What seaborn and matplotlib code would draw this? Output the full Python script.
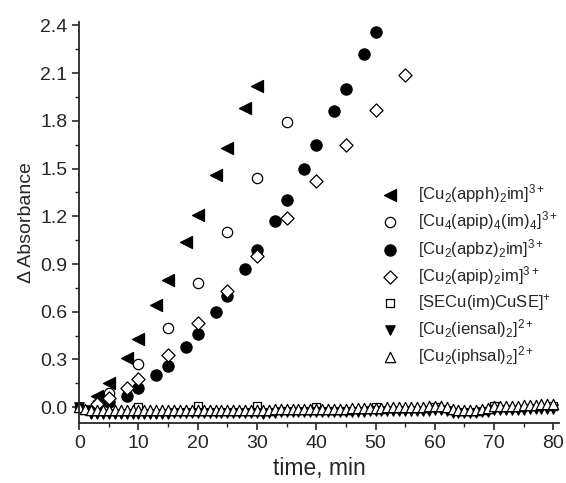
import numpy as np
import pandas as pd
import matplotlib
matplotlib.use('Agg')
import matplotlib.pyplot as plt
import seaborn as sns

sns.set_theme(style='ticks')
plt.rcParams['font.family'] = ['Liberation Sans', 'DejaVu Sans']
plt.rcParams['mathtext.fontset'] = 'custom'
plt.rcParams['mathtext.rm'] = 'Liberation Sans'
plt.rcParams['mathtext.it'] = 'Liberation Sans'
plt.rcParams['mathtext.bf'] = 'Liberation Sans'

# ---- data ----
apph_t = [3, 5, 8, 10, 13, 15, 18, 20, 23, 25, 28, 30]
apph_a = [0.07, 0.15, 0.31, 0.43, 0.64, 0.80, 1.04, 1.21, 1.46, 1.63, 1.88, 2.02]

apip4_t = [3, 5, 10, 15, 20, 25, 30, 35]
apip4_a = [0.02, 0.09, 0.27, 0.50, 0.78, 1.10, 1.44, 1.79]

apbz_t = [3, 5, 8, 10, 13, 15, 18, 20, 23, 25, 28, 30, 33, 35, 38, 40, 43, 45, 48, 50]
apbz_a = [0.01, 0.03, 0.07, 0.12, 0.20, 0.26, 0.38, 0.46, 0.60, 0.70, 0.87, 0.99,
          1.17, 1.30, 1.50, 1.65, 1.86, 2.00, 2.22, 2.36]

apip_t = [3, 5, 8, 10, 15, 20, 25, 30, 35, 40, 45, 50, 55]
apip_a = [0.02, 0.06, 0.12, 0.18, 0.33, 0.53, 0.73, 0.95, 1.19, 1.42, 1.65, 1.87, 2.09]

secu_t = [0, 10, 20, 30, 40, 50, 60, 70, 80]
secu_a = [0.00, 0.00, 0.01, 0.01, 0.00, 0.00, 0.00, 0.01, 0.01]

low_t = list(range(0, 81))
iensal_a = [0.00, -0.02, -0.04, -0.04, -0.04, -0.04, -0.04, -0.04, -0.04, -0.04,
            -0.04, -0.04, -0.04, -0.04, -0.04, -0.04, -0.035, -0.035, -0.035, -0.035,
            -0.035, -0.035, -0.035, -0.035, -0.035, -0.035, -0.035, -0.035, -0.035, -0.035,
            -0.035, -0.04, -0.035, -0.035, -0.03, -0.03, -0.03, -0.03, -0.03, -0.03,
            -0.03, -0.03, -0.03, -0.03, -0.03, -0.03, -0.03, -0.03, -0.03, -0.025,
            -0.025, -0.025, -0.025, -0.025, -0.025, -0.025, -0.025, -0.025, -0.025, -0.025,
            -0.02, -0.02, -0.025, -0.035, -0.035, -0.035, -0.035, -0.035, -0.03, -0.03,
            -0.02, -0.02, -0.02, -0.015, -0.015, -0.015, -0.01, -0.01, -0.01, -0.01,
            -0.01]
iphsal_a = [0.00, -0.01, -0.02, -0.02, -0.02, -0.02, -0.02, -0.02, -0.02, -0.02,
            -0.02, -0.02, -0.02, -0.02, -0.02, -0.02, -0.02, -0.02, -0.02, -0.02,
            -0.015, -0.015, -0.015, -0.015, -0.015, -0.015, -0.015, -0.015, -0.015, -0.015,
            -0.015, -0.015, -0.015, -0.01, -0.01, -0.01, -0.01, -0.01, -0.01, -0.01,
            -0.01, -0.01, -0.01, -0.01, -0.01, -0.01, -0.005, -0.005, -0.005, -0.005,
            -0.005, -0.005, 0.00, 0.00, 0.00, 0.00, 0.00, 0.00, 0.00, 0.005,
            0.005, 0.005, 0.00, -0.01, -0.015, -0.015, -0.015, -0.015, -0.01, -0.005,
            0.005, 0.005, 0.01, 0.01, 0.01, 0.015, 0.015, 0.015, 0.02, 0.02,
            0.02]

labels = [r'[Cu$_2$(apph)$_2$im]$^{3+}$',
          r'[Cu$_4$(apip)$_4$(im)$_4$]$^{3+}$',
          r'[Cu$_2$(apbz)$_2$im]$^{3+}$',
          r'[Cu$_2$(apip)$_2$im]$^{3+}$',
          r'[SECu(im)CuSE]$^{+}$',
          r'[Cu$_2$(iensal)$_2$]$^{2+}$',
          r'[Cu$_2$(iphsal)$_2$]$^{2+}$']

series = [
    (apph_t, apph_a, '<', 'black', 75),
    (apip4_t, apip4_a, 'o', 'white', 55),
    (apbz_t, apbz_a, 'o', 'black', 65),
    (apip_t, apip_a, 'D', 'white', 45),
    (secu_t, secu_a, 's', 'white', 40),
    (low_t, iensal_a, 'v', 'black', 45),
    (low_t, iphsal_a, '^', 'white', 55),
]

fig = plt.figure(figsize=(5.66, 4.83), dpi=100)
ax = fig.add_axes([0.14, 0.124, 0.848, 0.83])

for (t, a, mk, fc, s), lab in zip(series, labels):
    df = pd.DataFrame({'time': t, 'absorb': a})
    sns.scatterplot(data=df, x='time', y='absorb', marker=mk, s=s,
                    facecolor=fc, edgecolor='black', linewidth=0.9,
                    label=lab, ax=ax, clip_on=False)

ax.set_xlim(0, 81)
ax.set_ylim(-0.1, 2.42)
ax.set_xticks(np.arange(0, 81, 10))
ax.set_xticks(np.arange(5, 81, 10), minor=True)
ax.set_yticks(np.arange(0, 2.41, 0.3))
ax.set_yticks(np.arange(0.15, 2.41, 0.3), minor=True)
ax.yaxis.set_major_formatter(matplotlib.ticker.FormatStrFormatter('%.1f'))
ax.tick_params(which='major', direction='out', length=5, width=1.2, labelsize=14)
ax.tick_params(which='minor', direction='out', length=3, width=1.0)
sns.despine(ax=ax)
for sp in ['left', 'bottom']:
    ax.spines[sp].set_linewidth(1.3)

ax.set_xlabel('time, min', fontsize=16.5, labelpad=4)
ax.set_ylabel('Δ Absorbance', fontsize=14, labelpad=4)

ax.legend(loc='upper left', bbox_to_anchor=(0.613, 0.618), frameon=False,
          fontsize=12, labelspacing=0.27, handletextpad=1.05,
          borderaxespad=0, handlelength=1.2)

fig.savefig('out.png', dpi=100)
